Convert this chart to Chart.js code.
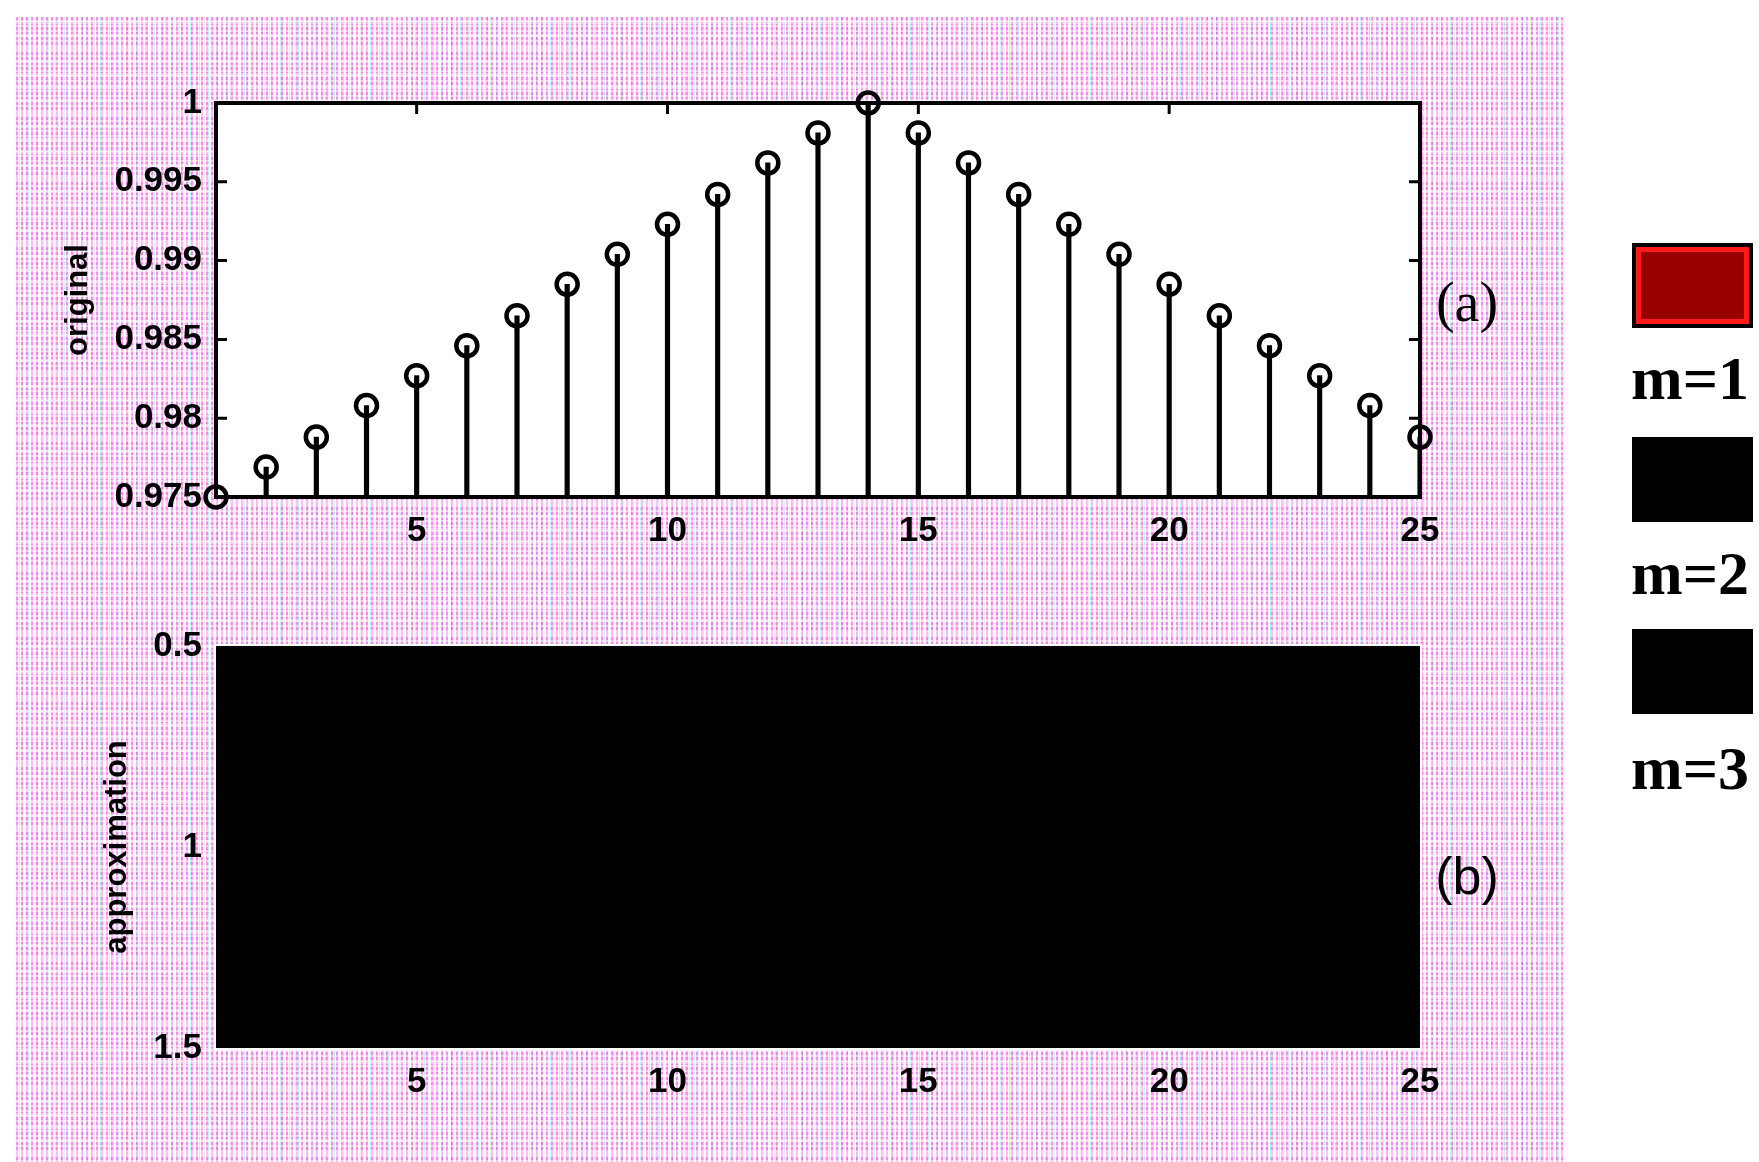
<!DOCTYPE html>
<html>
<head>
<meta charset="utf-8">
<script src="https://cdn.jsdelivr.net/npm/chart.js@4.4.1/dist/chart.umd.min.js"></script>
<style>
html,body{margin:0;padding:0;background:#fff;}
#stage{position:relative;width:1759px;height:1162px;overflow:hidden;background:#fff;}
#noise{position:absolute;left:16px;top:17px;width:1550px;height:1145px;
  background-color:#fff6fd;
  background-image:
    repeating-linear-gradient(0deg, rgba(255,255,255,0.5) 0 2px, rgba(255,255,255,0) 2px 5px),
    repeating-linear-gradient(0deg, rgba(255,255,255,0) 0 7px, rgba(255,255,255,0.45) 7px 10px, rgba(255,255,255,0) 10px 13px),
    repeating-linear-gradient(90deg, rgba(255,0,230,0.45) 0 2px, rgba(0,0,0,0) 2px 5px),
    repeating-linear-gradient(90deg, rgba(0,0,0,0) 0 3px, rgba(0,220,230,0.3) 3px 4px, rgba(0,0,0,0) 4px 9px),
    repeating-linear-gradient(90deg, rgba(0,0,0,0) 0 6px, rgba(90,200,60,0.2) 6px 7px, rgba(0,0,0,0) 7px 13px),
    repeating-linear-gradient(90deg, rgba(0,0,0,0) 0 10px, rgba(80,60,120,0.12) 10px 11px, rgba(0,0,0,0) 11px 17px);
}
canvas{position:absolute;left:0;}
#c1{top:0;}
#c2{top:560px;}
.panel{position:absolute;left:1417px;width:100px;text-align:center;color:#000;white-space:nowrap;}
#pa{top:274px;font:56px/56px 'Liberation Serif','DejaVu Serif',serif;}
#pb{top:850px;font:52px/52px 'Liberation Sans','DejaVu Sans',sans-serif;}
.lbox{position:absolute;left:1632px;width:121px;height:85px;box-sizing:border-box;border:4px solid #000;}
.lbox .inner{width:100%;height:100%;box-sizing:border-box;border:5px solid transparent;}
.ltext{position:absolute;left:1600px;width:180px;text-align:center;font:bold 62px/62px 'Liberation Serif','DejaVu Serif',serif;color:#000;white-space:nowrap;}
</style>
</head>
<body>
<div id="stage">
  <div id="noise"></div>
  <canvas id="c1" width="1460" height="580"></canvas>
  <canvas id="c2" width="1460" height="580"></canvas>
  <div class="panel" id="pa"></div>
  <div class="panel" id="pb"></div>
  <div id="legend"></div>
</div>
<script>
// ---------- data ----------
const xValues = [1,2,3,4,5,6,7,8,9,10,11,12,13,14,15,16,17,18,19,20,21,22,23,24,25];
const originalValues = [0.975,0.9769,0.9788,0.9808,0.9827,0.9846,0.9865,0.9885,0.9904,0.9923,0.9942,0.9962,0.9981,1.0,
                        0.9981,0.9962,0.9942,0.9923,0.9904,0.9885,0.9865,0.9846,0.9827,0.9808,0.9788];
const stemBase = 0.975;
const xTickValues = [5,10,15,20,25];
const topYTicks = [0.975,0.98,0.985,0.99,0.995,1];
const topYTickLabels = ['0.975','0.98','0.985','0.99','0.995','1'];
const bottomYTicks = [0.5,1,1.5];
const bottomYTickLabels = ['0.5','1','1.5'];
// approximation image: one row of 25 cells, all read as black (intensity 0)
const approxCellValues = [0,0,0,0,0,0,0,0,0,0,0,0,0,0,0,0,0,0,0,0,0,0,0,0,0];
const approxRowSpan = [0.5,1.5];
const yTitles = ['original','approximation'];
const panelLabels = ['(a)','(b)'];
const legendLabels = ['m=1','m=2','m=3'];
const legendFills = ['#980000','#000000','#000000'];
const legendInnerBorders = ['#ff1a1a','#000000','#000000'];

// ---------- helpers ----------
const tickFont = {family:"'Liberation Sans', Arial, sans-serif", size:35, weight:'bold'};
const titleFont = {family:"'Liberation Sans', Arial, sans-serif", size:31, weight:'bold'};

const areaFill = {
  id:'areaFill',
  beforeDraw(chart, args, opts){
    if(!opts.color) return;
    const {ctx, chartArea:a} = chart;
    ctx.save();
    if(opts.edge){
      ctx.fillStyle = opts.edge;
      ctx.fillRect(a.left-opts.edgeWidth, a.top-opts.edgeWidth, a.right-a.left+2*opts.edgeWidth, a.bottom-a.top+2*opts.edgeWidth);
    }
    ctx.fillStyle = opts.color;
    ctx.fillRect(a.left, a.top, a.right-a.left, a.bottom-a.top);
    ctx.restore();
  }
};

const frameTicks = {
  id:'frameTicks',
  beforeDatasetsDraw(chart, args, opts){
    if(!opts.on) return;
    const {ctx, chartArea:a, scales} = chart;
    const x = scales.x, y = scales.y;
    ctx.save();
    ctx.strokeStyle = '#000';
    ctx.lineWidth = opts.tickWidth;
    ctx.beginPath();
    x.ticks.forEach(t => {
      const px = x.getPixelForValue(t.value);
      if(px < a.left+3 || px > a.right-3) return;
      ctx.moveTo(px, a.bottom); ctx.lineTo(px, a.bottom-opts.len);
      ctx.moveTo(px, a.top); ctx.lineTo(px, a.top+opts.len);
    });
    y.ticks.forEach(t => {
      const py = y.getPixelForValue(t.value);
      if(py < a.top+3 || py > a.bottom-3) return;
      ctx.moveTo(a.left, py); ctx.lineTo(a.left+opts.len, py);
      ctx.moveTo(a.right, py); ctx.lineTo(a.right-opts.len, py);
    });
    ctx.stroke();
    ctx.lineWidth = opts.width;
    ctx.strokeRect(a.left, a.top, a.right-a.left, a.bottom-a.top);
    ctx.restore();
  }
};

function xScale(){
  return {
    type:'linear', min:1, max:25, offset:false,
    afterBuildTicks: s => { s.ticks = xTickValues.map(v => ({value:v})); },
    afterFit: s => { s.height = 60; },
    grid:{display:false, drawTicks:false},
    border:{display:false},
    ticks:{font:tickFont, color:'#000', padding:13, maxRotation:0, autoSkip:false}
  };
}
function yScale(vals, labels, min, max, reverse, title, titlePad){
  return {
    type:'linear', min:min, max:max, reverse:reverse,
    afterBuildTicks: s => { s.ticks = vals.map(v => ({value:v})); },
    afterFit: s => { s.width = 216; },
    grid:{display:false, drawTicks:false},
    border:{display:false},
    ticks:{font:tickFont, color:'#000', padding:14, autoSkip:false,
           callback:(v,i) => labels[i]},
    title:{display:true, text:title, font:titleFont, color:'#000', padding:{top:titlePad, bottom:0}}
  };
}

// ---------- top chart: stems ----------
new Chart(document.getElementById('c1'), {
  type:'bar',
  data:{
    datasets:[
      {
        type:'scatter',
        data: xValues.map((x,i) => ({x:x, y:originalValues[i]})),
        pointStyle:'circle', pointRadius:10.5, pointBorderWidth:4.5,
        pointBorderColor:'#000', pointBackgroundColor:'rgba(0,0,0,0)',
        clip:false, order:0
      },
      {
        type:'bar',
        data: xValues.map((x,i) => ({x:x, y:[stemBase, originalValues[i]]})),
        backgroundColor:'#000', barThickness:4.5, borderWidth:0, order:1
      }
    ]
  },
  options:{
    responsive:false, animation:false, devicePixelRatio:1,
    layout:{padding:{top:103, right:40, bottom:23, left:0}},
    plugins:{legend:{display:false}, tooltip:{enabled:false},
             areaFill:{color:'#ffffff'},
             frameTicks:{on:true, width:4, tickWidth:3, len:11}},
    scales:{
      x: xScale(),
      y: yScale(topYTicks, topYTickLabels, 0.975, 1, false, yTitles[0], 60)
    }
  },
  plugins:[areaFill, frameTicks]
});

// ---------- bottom chart: approximation image ----------
new Chart(document.getElementById('c2'), {
  type:'bar',
  data:{
    datasets:[{
      data: xValues.map((x,i) => ({x:x, y:approxRowSpan})),
      backgroundColor: approxCellValues.map(v => `rgb(${v*255},${v*255},${v*255})`),
      borderWidth:0, barPercentage:1.06, categoryPercentage:1
    }]
  },
  options:{
    responsive:false, animation:false, devicePixelRatio:1,
    layout:{padding:{top:86, right:40, bottom:32, left:0}},
    plugins:{legend:{display:false}, tooltip:{enabled:false},
             areaFill:{color:'#000000', edge:'#ffffff', edgeWidth:2},
             frameTicks:{on:false}},
    scales:{
      x: xScale(),
      y: yScale(bottomYTicks, bottomYTickLabels, 0.5, 1.5, true, yTitles[1], 99)
    }
  },
  plugins:[areaFill, frameTicks]
});

// ---------- panel labels ----------
document.getElementById('pa').textContent = panelLabels[0];
document.getElementById('pb').textContent = panelLabels[1];

// ---------- legend ----------
const boxTops = [243, 437, 629];
const textTops = [347, 542, 737];
const legend = document.getElementById('legend');
legendLabels.forEach((lab, i) => {
  const b = document.createElement('div');
  b.className = 'lbox';
  b.style.top = boxTops[i] + 'px';
  b.style.background = '#000';
  const inner = document.createElement('div');
  inner.className = 'inner';
  inner.style.background = legendFills[i];
  inner.style.borderColor = legendInnerBorders[i];
  b.appendChild(inner);
  legend.appendChild(b);
  const t = document.createElement('div');
  t.className = 'ltext';
  t.style.top = textTops[i] + 'px';
  t.textContent = lab;
  legend.appendChild(t);
});
</script>
</body>
</html>
